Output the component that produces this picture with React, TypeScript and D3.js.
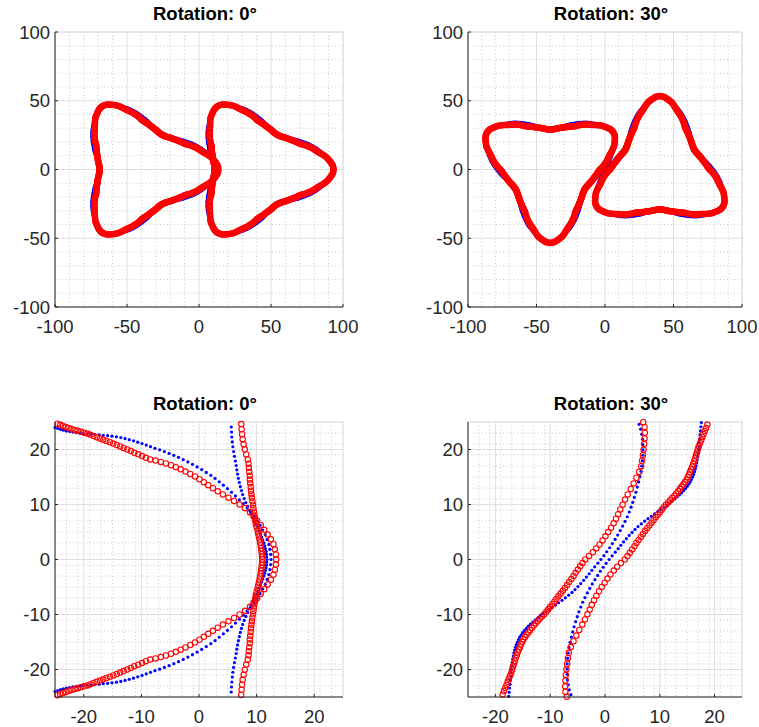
import React from 'react';
import * as d3 from 'd3';

// rotor radius (data units) per degree from lobe tip (0°) to valley (60°)
const blueProfile = [
  52.5, 52.45, 52.35, 52.2, 51.95, 51.7, 51.35, 51.0, 50.6, 50.15,
  49.7, 49.25, 48.75, 48.25, 47.75, 47.25, 46.75, 46.25, 45.75, 45.25,
  44.75, 44.2, 43.65, 43.1, 42.55, 42.0, 41.45, 40.9, 40.35, 39.8,
  39.25, 38.7, 38.15, 37.65, 37.2, 36.75, 36.3, 35.85, 35.4, 34.95,
  34.5, 34.0, 33.5, 33.0, 32.5, 32.05, 31.6, 31.15, 30.75, 30.35,
  30.0, 29.7, 29.4, 29.15, 28.9, 28.7, 28.55, 28.4, 28.3, 28.25,
  28.2,
];
const redProfile = [
  53.4, 53.35, 53.2, 53.0, 52.6, 52.1, 51.6, 51.1, 50.6, 50.1,
  49.6, 48.9, 48.1, 47.3, 46.5, 45.7, 45.0, 44.35, 43.75, 43.2,
  42.65, 42.1, 41.5, 40.9, 40.3, 39.7, 39.1, 38.45, 37.8, 37.1,
  36.4, 35.9, 35.5, 35.1, 34.7, 34.4, 34.05, 33.7, 33.4, 33.1,
  32.8, 32.5, 32.2, 31.95, 31.7, 31.45, 31.2, 31.0, 30.8, 30.55,
  30.3, 30.1, 29.9, 29.7, 29.55, 29.4, 29.3, 29.2, 29.1, 29.05,
  29.0,
];

const rotorCenters = [-40, 40];
const rotorSpin = [1, -1];
const lobeCount = 3;

const rotations = [0, 30];
const fullTicks = [-100, -50, 0, 50, 100];
const zoomTicks = [-20, -10, 0, 10, 20];
const fullLimit = 100;
const zoomLimit = 25;
const fullMinor = 10;
const zoomMinor = 2;

type Pt = { x: number; y: number };

function rotorPoints(profile: number[], center: number, rotDeg: number): Pt[] {
  const pts: Pt[] = [];
  const half = profile.length - 1;
  const pitch = 360 / lobeCount;
  for (let k = 0; k < lobeCount; k++) {
    for (let j = -half + 1; j <= half; j++) {
      const r = profile[Math.abs(j)];
      const a = ((k * pitch + j + rotDeg) * Math.PI) / 180;
      pts.push({ x: center + r * Math.cos(a), y: r * Math.sin(a) });
    }
  }
  return pts;
}

function seriesPoints(profile: number[], rot: number): Pt[] {
  return rotorCenters.flatMap((c, i) => rotorPoints(profile, c, rotorSpin[i] * rot));
}

const font = '"Liberation Sans", Arial, Helvetica, sans-serif';
const ink = '#262626';

type PanelProps = {
  x0: number; x1: number; y0: number; y1: number;
  rot: number; limit: number; ticks: number[]; minor: number;
};

function Panel({ x0, x1, y0, y1, rot, limit, ticks, minor }: PanelProps) {
  const x = d3.scaleLinear().domain([-limit, limit]).range([x0, x1]);
  const y = d3.scaleLinear().domain([-limit, limit]).range([y1, y0]);
  const minorTicks = d3.range(-limit, limit + 0.001, minor).filter(v => !ticks.includes(v));
  const inside = (p: Pt) => Math.abs(p.x) <= limit + 0.01 && Math.abs(p.y) <= limit + 0.01;
  const blue = seriesPoints(blueProfile, rot).filter(inside);
  const red = seriesPoints(redProfile, rot).filter(inside);
  const gridEdges = [-limit, limit];

  return (
    <g>
      <rect x={x0} y={y0} width={x1 - x0} height={y1 - y0} fill="#fff" />
      {minorTicks.map(v => (
        <g key={'m' + v}>
          <line x1={x(v)} x2={x(v)} y1={y0} y2={y1} stroke="#bdbdbd" strokeWidth={0.8} strokeDasharray="1,2.5" />
          <line x1={x0} x2={x1} y1={y(v)} y2={y(v)} stroke="#bdbdbd" strokeWidth={0.8} strokeDasharray="1,2.5" />
        </g>
      ))}
      {[...ticks, ...gridEdges].map(v => (
        <g key={'g' + v}>
          <line x1={x(v)} x2={x(v)} y1={y0} y2={y1} stroke="#dedede" strokeWidth={1} />
          <line x1={x0} x2={x1} y1={y(v)} y2={y(v)} stroke="#dedede" strokeWidth={1} />
        </g>
      ))}
      {blue.map((p, i) => (
        <circle key={'b' + i} cx={x(p.x)} cy={y(p.y)} r={1.6} fill="#0000ff" />
      ))}
      {red.map((p, i) => (
        <circle key={'r' + i} cx={x(p.x)} cy={y(p.y)} r={2.7} fill="none" stroke="#ff0000" strokeWidth={1.1} />
      ))}
      <line x1={x0} x2={x0} y1={y0} y2={y1} stroke={ink} strokeWidth={1} />
      <line x1={x0} x2={x1} y1={y1} y2={y1} stroke={ink} strokeWidth={1} />
      {ticks.map(v => (
        <g key={'t' + v} fill={ink} fontFamily={font} fontSize={18.5}>
          <line x1={x(v)} x2={x(v)} y1={y1} y2={y1 - 3} stroke={ink} />
          <line x1={x0} x2={x0 + 3} y1={y(v)} y2={y(v)} stroke={ink} />
          <text x={x(v)} y={y1 + 26} textAnchor="middle">{v}</text>
          <text x={x0 - 5} y={y(v) + 6.5} textAnchor="end">{v}</text>
        </g>
      ))}
      <text x={(x0 + x1) / 2 + 6} y={y0 - 12} textAnchor="middle" fontFamily={font} fontSize={18.5} fontWeight="bold" fill="#000">
        {`Rotation: ${rot}°`}
      </text>
    </g>
  );
}

export default function App() {
  const cols = [
    { x0: 55, x1: 343 },
    { x0: 468, x1: 742 },
  ];
  const rows = [
    { y0: 32, y1: 307, limit: fullLimit, ticks: fullTicks, minor: fullMinor },
    { y0: 422, y1: 697, limit: zoomLimit, ticks: zoomTicks, minor: zoomMinor },
  ];
  return (
    <svg width={759} height={727} style={{ position: 'absolute', left: 0, top: 0, background: '#fff' }}>
      {rows.map((row, ri) =>
        rotations.map((rot, ci) => (
          <Panel key={ri + '-' + ci} {...cols[ci]} {...row} rot={rot} />
        ))
      )}
    </svg>
  );
}
